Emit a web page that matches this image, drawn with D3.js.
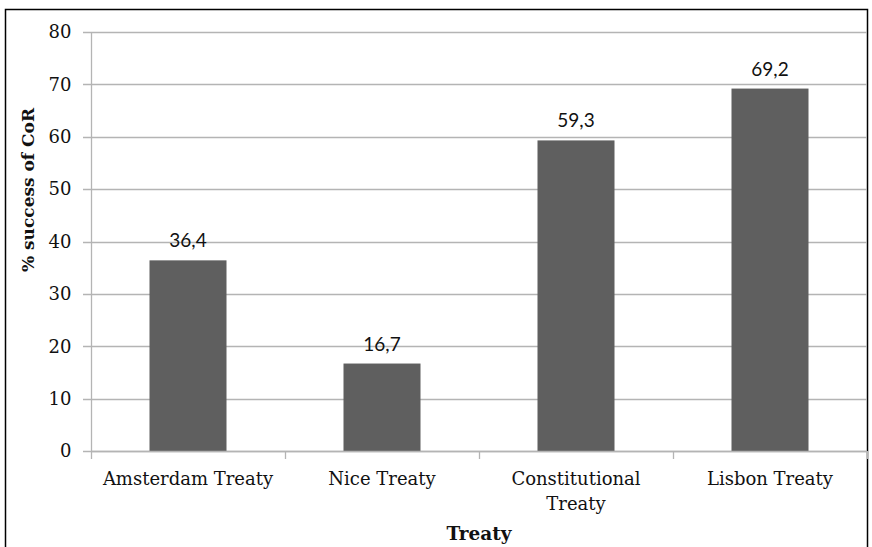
<!DOCTYPE html>
<html lang="en">
<head>
<meta charset="utf-8">
<script src="https://d3js.org/d3.v7.min.js"></script>
<style>
  body { margin: 0; background: #fff; }
  .grid line { stroke: #b4b4b4; stroke-width: 1.3px; }
  .axis path, .axis line { stroke: #b4b4b4; stroke-width: 1.3px; }
  .axis text { font-family: "DejaVu Serif", serif; fill: #111; }
</style>
</head>
<body>
<div id="chart"></div>
<script>
  var treaties = ["Amsterdam Treaty", "Nice Treaty", "Constitutional Treaty", "Lisbon Treaty"];
  var success = [36.4, 16.7, 59.3, 69.2];
  var yTicks = [0, 10, 20, 30, 40, 50, 60, 70, 80];

  var width = 872, height = 547;
  var plotLeft = 91, plotRight = 867, plotTop = 32, plotBottom = 451;

  var svg = d3.select("#chart").append("svg")
    .attr("width", width)
    .attr("height", height);

  // outer frame (bottom edge runs off the picture)
  svg.append("rect")
    .attr("x", 5.5).attr("y", 9.5)
    .attr("width", 862).attr("height", 560)
    .attr("fill", "none")
    .attr("stroke", "#000")
    .attr("stroke-width", 1.5);

  var x = d3.scaleBand().domain(treaties).range([plotLeft, plotRight]).padding(0);
  var y = d3.scaleLinear().domain([0, 80]).range([plotBottom, plotTop]);

  // horizontal gridlines with stubs left of the axis
  svg.append("g").attr("class", "grid")
    .selectAll("line").data(yTicks).enter().append("line")
    .attr("x1", plotLeft - 8).attr("x2", plotRight)
    .attr("y1", d => Math.round(y(d)) + 0.5)
    .attr("y2", d => Math.round(y(d)) + 0.5);

  // y axis
  var yAxis = svg.append("g").attr("class", "axis")
    .attr("transform", `translate(${plotLeft + 0.5},0)`)
    .call(d3.axisLeft(y).tickValues(yTicks).tickSize(0).tickPadding(20));
  yAxis.select(".domain").attr("d", `M0,${plotTop}V${plotBottom}`);
  yAxis.selectAll("text").style("font-size", "18px");

  // bars
  var barW = 77;
  svg.append("g").selectAll("rect")
    .data(success).enter().append("rect")
    .attr("x", (d, i) => x(treaties[i]) + (x.bandwidth() - barW) / 2)
    .attr("y", d => y(d))
    .attr("width", barW)
    .attr("height", d => y(0) - y(d))
    .attr("fill", "#5f5f5f");

  // value labels
  svg.append("g").selectAll("text")
    .data(success).enter().append("text")
    .attr("x", (d, i) => x(treaties[i]) + x.bandwidth() / 2)
    .attr("y", d => y(d) - 13)
    .attr("text-anchor", "middle")
    .style("font-family", "Lato, sans-serif")
    .style("font-size", "19px")
    .style("fill", "#111")
    .text(d => d.toFixed(1).replace(".", ","));

  // x axis: line at 0 with ticks on category boundaries
  var bounds = treaties.map(t => x(t)).concat([plotRight]);
  var xg = svg.append("g").attr("class", "axis");
  xg.append("line")
    .attr("x1", plotLeft).attr("x2", plotRight)
    .attr("y1", Math.round(y(0)) + 0.5).attr("y2", Math.round(y(0)) + 0.5);
  xg.selectAll(".tk").data(bounds).enter().append("line")
    .attr("class", "tk")
    .attr("x1", d => Math.round(d) + 0.5).attr("x2", d => Math.round(d) + 0.5)
    .attr("y1", y(0)).attr("y2", y(0) + 8);

  xg.selectAll(".lbl").data(treaties).enter().append("text")
    .attr("class", "lbl")
    .attr("text-anchor", "middle")
    .attr("x", d => x(d) + x.bandwidth() / 2)
    .attr("y", 485)
    .style("font-size", "18px")
    .each(function(d) {
      var t = d3.select(this);
      var parts = d === "Constitutional Treaty" ? ["Constitutional", "Treaty"] : [d];
      parts.forEach(function(p, k) {
        t.append("tspan")
          .attr("x", x(d) + x.bandwidth() / 2)
          .attr("dy", k === 0 ? 0 : 25)
          .text(p);
      });
    });

  // axis titles
  svg.append("text")
    .attr("transform", "translate(34,190) rotate(-90)")
    .attr("text-anchor", "middle")
    .style("font-family", "DejaVu Serif, serif")
    .style("font-weight", "bold")
    .style("font-size", "17px")
    .style("fill", "#111")
    .text("% success of CoR");

  svg.append("text")
    .attr("x", (plotLeft + plotRight) / 2)
    .attr("y", 540)
    .attr("text-anchor", "middle")
    .style("font-family", "DejaVu Serif, serif")
    .style("font-weight", "bold")
    .style("font-size", "18.5px")
    .style("fill", "#111")
    .text("Treaty");
</script>
</body>
</html>
